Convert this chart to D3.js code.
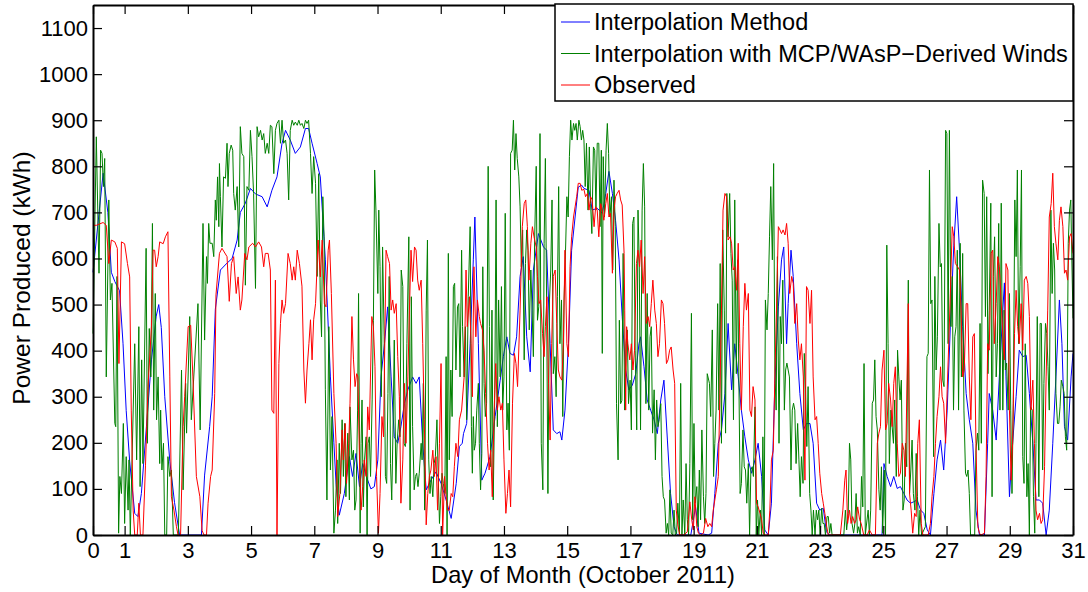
<!DOCTYPE html>
<html>
<head>
<meta charset="utf-8">
<script src="https://cdn.jsdelivr.net/npm/d3@7"></script>
<style>
  body { margin: 0; background: #fff; }
  svg text { font-family: "Liberation Sans", Arial, Helvetica, sans-serif; fill: #000; }
</style>
</head>
<body>
<div id="my_dataviz"></div>
<script>
// hourly power as [day, kWh] pairs
const seriesNames = ["Interpolation Method", "Interpolation with MCP/WAsP\u2212Derived Winds", "Observed"];
const seriesColors = ["#0000ff", "#008000", "#ff0000"];
const xTicks = [0, 1, 3, 5, 7, 9, 11, 13, 15, 17, 19, 21, 23, 25, 27, 29, 31];
const yTicks = [0, 100, 200, 300, 400, 500, 600, 700, 800, 900, 1000, 1100];

const interpMethod = [[0,570],[0.32,785],[0.47,700],[0.58,570],[0.69,550],[0.84,530],[0.95,415],[1.05,270],[1.16,160],[1.32,47],[1.42,40],[1.53,90],[1.69,235],[1.85,380],[2.0,475],[2.08,500],[2.16,450],[2.27,300],[2.43,160],[2.58,70],[2.74,0],[3.43,0],[3.53,130],[3.69,235],[3.77,300],[3.87,490],[4.03,575],[4.24,590],[4.4,600],[4.56,640],[4.66,700],[4.82,720],[4.98,752],[5.14,740],[5.35,734],[5.51,712],[5.66,748],[5.82,777],[5.98,850],[6.09,878],[6.24,857],[6.4,828],[6.56,842],[6.72,882],[6.82,882],[6.93,850],[7.09,806],[7.19,777],[7.35,597],[7.51,343],[7.62,200],[7.69,110],[7.79,43],[7.95,90],[8.11,170],[8.21,127],[8.32,177],[8.43,105],[8.53,155],[8.69,119],[8.79,100],[8.9,105],[9.01,163],[9.11,343],[9.22,415],[9.32,495],[9.43,343],[9.53,213],[9.64,199],[9.74,235],[9.85,285],[9.96,315],[10.11,343],[10.22,329],[10.32,343],[10.43,199],[10.54,98],[10.69,119],[10.85,137],[11.01,112],[11.17,76],[11.33,36],[11.49,112],[11.59,192],[11.68,199],[11.72,220],[11.82,242],[11.93,415],[12.03,597],[12.08,690],[12.19,415],[12.3,119],[12.4,134],[12.56,170],[12.72,257],[12.88,336],[12.98,387],[13.09,430],[13.19,394],[13.3,390],[13.4,430],[13.51,561],[13.61,604],[13.72,430],[13.83,354],[13.93,575],[14.09,654],[14.25,625],[14.35,618],[14.46,415],[14.56,228],[14.67,220],[14.77,224],[14.83,206],[14.93,271],[15.04,415],[15.14,618],[15.25,690],[15.35,755],[15.46,759],[15.53,752],[15.69,748],[15.79,705],[15.95,709],[16.11,698],[16.22,741],[16.32,789],[16.43,741],[16.53,683],[16.64,597],[16.74,474],[16.85,358],[16.95,315],[17.06,325],[17.17,350],[17.27,415],[17.32,430],[17.43,365],[17.53,293],[17.64,271],[17.75,250],[17.85,220],[17.96,293],[18.06,336],[18.17,206],[18.27,90],[18.38,18],[18.48,0],[18.91,0],[19.06,61],[19.17,4],[19.46,0],[19.57,4],[19.67,90],[19.78,199],[19.88,228],[19.99,307],[20.09,459],[20.2,315],[20.3,415],[20.41,343],[20.51,271],[20.62,213],[20.73,163],[20.83,134],[20.94,163],[21.04,199],[21.15,127],[21.25,11],[21.36,0],[21.46,69],[21.57,329],[21.68,495],[21.78,597],[21.85,625],[21.94,415],[21.99,502],[22.08,618],[22.15,561],[22.26,415],[22.36,307],[22.47,228],[22.57,242],[22.68,242],[22.78,199],[22.89,69],[22.99,54],[23.1,58],[23.2,7],[23.3,0],[24.96,0],[25.02,155],[25.12,127],[25.23,105],[25.33,127],[25.44,101],[25.54,105],[25.65,90],[25.75,76],[25.86,69],[25.96,72],[26.07,76],[26.18,54],[26.28,47],[26.39,11],[26.49,0],[26.6,90],[26.7,163],[26.81,206],[26.91,141],[27.02,271],[27.12,452],[27.23,629],[27.32,734],[27.41,618],[27.51,452],[27.62,307],[27.72,250],[27.83,199],[27.93,54],[28.04,0],[28.2,0],[28.3,199],[28.35,307],[28.46,271],[28.57,206],[28.67,343],[28.78,488],[28.83,547],[28.88,343],[28.99,83],[29.09,199],[29.2,300],[29.3,401],[29.41,387],[29.52,390],[29.62,307],[29.73,199],[29.83,76],[29.94,76],[30.04,69],[30.15,0],[30.25,54],[30.36,199],[30.46,343],[30.57,510],[30.65,415],[30.73,235],[30.83,206],[30.94,343],[31,394]];

const interpMcp = [[0,437],[0.105,864],[0.19,568],[0.24,835],[0.285,828],[0.33,756],[0.37,817],[0.42,343],[0.5,727],[0.55,510],[0.6,546],[0.69,242],[0.72,235],[0.76,561],[0.81,4],[0.85,127],[0.9,90],[0.96,242],[1.0,25],[1.05,170],[1.11,54],[1.14,163],[1.18,0],[1.32,415],[1.38,163],[1.45,452],[1.49,105],[1.54,380],[1.58,155],[1.68,622],[1.72,199],[1.78,448],[1.83,343],[1.88,676],[1.92,271],[1.97,524],[2.01,250],[2.06,343],[2.11,155],[2.14,271],[2.18,141],[2.23,199],[2.27,0],[2.33,0],[2.37,170],[2.43,127],[2.48,141],[2.54,0],[2.7,0],[2.8,358],[2.85,98],[2.93,329],[2.96,221],[3.06,474],[3.11,250],[3.32,502],[3.39,228],[3.48,676],[3.53,423],[3.59,604],[3.62,546],[3.66,676],[3.7,633],[3.77,633],[3.82,604],[3.87,727],[3.9,683],[3.94,777],[3.98,669],[4.0,806],[4.03,734],[4.08,625],[4.13,777],[4.19,774],[4.24,850],[4.27,756],[4.31,828],[4.37,846],[4.42,835],[4.45,741],[4.5,705],[4.56,756],[4.61,625],[4.66,886],[4.71,828],[4.77,821],[4.82,542],[4.87,756],[4.93,748],[4.98,878],[5.03,821],[5.08,741],[5.14,535],[5.19,886],[5.24,864],[5.3,878],[5.35,857],[5.4,871],[5.45,828],[5.51,850],[5.56,828],[5.61,889],[5.66,886],[5.72,784],[5.77,878],[5.82,893],[5.88,900],[5.93,850],[5.98,900],[6.03,850],[6.09,857],[6.14,828],[6.19,727],[6.24,878],[6.3,900],[6.35,889],[6.4,896],[6.46,889],[6.51,900],[6.56,889],[6.61,893],[6.67,882],[6.72,900],[6.77,893],[6.82,900],[6.88,828],[6.93,741],[6.98,821],[7.04,763],[7.09,561],[7.14,784],[7.19,510],[7.23,430],[7.27,734],[7.31,647],[7.35,315],[7.4,76],[7.46,452],[7.51,141],[7.56,257],[7.62,4],[7.67,54],[7.72,163],[7.74,25],[7.79,199],[7.83,90],[7.88,250],[7.92,127],[7.96,242],[8.0,83],[8.06,221],[8.11,76],[8.13,278],[8.19,163],[8.24,184],[8.28,54],[8.32,76],[8.37,271],[8.4,524],[8.45,4],[8.48,199],[8.51,293],[8.55,61],[8.59,163],[8.64,213],[8.67,0],[8.7,199],[8.74,213],[8.78,127],[8.83,293],[8.87,466],[8.91,792],[8.95,705],[9.01,524],[9.04,705],[9.08,582],[9.12,300],[9.16,625],[9.21,430],[9.25,127],[9.29,112],[9.33,307],[9.37,561],[9.41,155],[9.45,76],[9.49,228],[9.53,423],[9.58,112],[9.62,199],[9.67,250],[9.71,213],[9.75,575],[9.8,539],[9.84,199],[9.88,192],[9.93,415],[9.99,647],[10.03,54],[10.07,517],[10.11,235],[10.16,98],[10.2,127],[10.24,134],[10.28,105],[10.32,134],[10.38,199],[10.41,163],[10.45,329],[10.49,54],[10.54,488],[10.58,640],[10.62,163],[10.66,90],[10.7,127],[10.75,83],[10.79,155],[10.83,170],[10.88,250],[10.92,127],[10.96,25],[11.0,83],[11.04,134],[11.08,112],[11.13,90],[11.17,387],[11.2,0],[11.24,611],[11.27,163],[11.32,358],[11.36,257],[11.4,539],[11.44,546],[11.48,358],[11.53,495],[11.57,502],[11.61,343],[11.66,618],[11.69,452],[11.74,343],[11.78,452],[11.82,250],[11.87,517],[11.93,669],[11.97,235],[12.0,134],[12.03,257],[12.06,184],[12.1,199],[12.14,271],[12.19,329],[12.22,199],[12.26,98],[12.3,177],[12.33,582],[12.37,329],[12.41,257],[12.45,286],[12.5,800],[12.54,452],[12.58,148],[12.62,488],[12.66,76],[12.71,315],[12.75,727],[12.79,235],[12.83,510],[12.88,343],[12.92,539],[12.96,271],[13.0,343],[13.04,698],[13.09,228],[13.13,286],[13.17,184],[13.21,828],[13.26,835],[13.3,900],[13.34,792],[13.38,871],[13.42,817],[13.47,777],[13.51,712],[13.55,582],[13.59,662],[13.64,380],[13.68,589],[13.72,662],[13.76,618],[13.8,445],[13.85,575],[13.89,488],[13.93,387],[13.97,640],[14.02,800],[14.06,466],[14.1,495],[14.14,871],[14.18,199],[14.23,98],[14.27,633],[14.31,817],[14.35,495],[14.39,90],[14.44,510],[14.48,575],[14.52,727],[14.56,350],[14.61,387],[14.65,300],[14.69,517],[14.73,756],[14.77,415],[14.82,510],[14.86,257],[14.9,510],[14.94,597],[14.99,734],[15.03,690],[15.07,821],[15.11,900],[15.15,857],[15.2,893],[15.24,878],[15.28,893],[15.32,857],[15.37,900],[15.41,886],[15.45,857],[15.49,878],[15.53,857],[15.57,756],[15.61,850],[15.66,705],[15.7,842],[15.74,719],[15.78,654],[15.83,842],[15.87,835],[15.91,705],[15.95,850],[16.0,850],[16.04,669],[16.08,835],[16.11,394],[16.14,821],[16.18,690],[16.23,835],[16.27,893],[16.31,828],[16.35,690],[16.4,734],[16.44,575],[16.48,770],[16.52,669],[16.56,285],[16.61,163],[16.65,466],[16.69,285],[16.73,292],[16.77,611],[16.82,271],[16.86,415],[16.9,445],[16.94,285],[16.99,336],[17.03,228],[17.07,676],[17.11,690],[17.15,401],[17.2,228],[17.24,705],[17.28,589],[17.32,228],[17.37,705],[17.41,806],[17.45,712],[17.49,285],[17.53,524],[17.58,271],[17.62,430],[17.66,452],[17.7,221],[17.75,315],[17.79,163],[17.83,293],[17.87,235],[17.91,250],[17.96,285],[18.0,127],[18.04,83],[18.08,76],[18.13,4],[18.17,25],[18.21,0],[18.25,98],[18.29,4],[18.34,0],[18.38,54],[18.42,0],[18.46,4],[18.5,69],[18.55,0],[18.59,329],[18.63,0],[18.67,76],[18.72,0],[18.76,155],[18.8,33],[18.84,0],[18.88,155],[18.93,481],[18.97,33],[19.01,242],[19.05,69],[19.1,105],[19.14,18],[19.18,141],[19.22,33],[19.26,228],[19.31,83],[19.35,25],[19.39,90],[19.43,350],[19.5,329],[19.54,257],[19.59,445],[19.63,127],[19.67,199],[19.71,271],[19.76,502],[19.8,271],[19.84,589],[19.88,199],[19.92,662],[19.97,488],[20.01,221],[20.05,741],[20.09,647],[20.14,741],[20.18,611],[20.22,553],[20.26,250],[20.3,727],[20.35,350],[20.39,597],[20.43,343],[20.47,90],[20.51,112],[20.56,228],[20.6,148],[20.64,141],[20.68,69],[20.73,155],[20.77,0],[20.81,141],[20.85,148],[20.89,127],[20.94,278],[20.98,0],[21.02,76],[21.06,0],[21.11,54],[21.15,0],[21.19,213],[21.23,0],[21.27,510],[21.32,445],[21.36,524],[21.4,647],[21.44,756],[21.49,597],[21.53,806],[21.57,358],[21.61,271],[21.65,604],[21.7,199],[21.74,474],[21.78,415],[21.82,553],[21.87,271],[21.91,358],[21.95,373],[21.99,358],[22.03,343],[22.08,141],[22.12,271],[22.16,286],[22.2,271],[22.24,155],[22.29,242],[22.33,163],[22.37,83],[22.41,170],[22.46,112],[22.5,394],[22.54,315],[22.58,192],[22.62,322],[22.67,90],[22.71,54],[22.75,0],[22.79,54],[22.84,0],[22.88,54],[22.92,33],[22.96,54],[23.0,0],[23.05,58],[23.09,25],[23.13,25],[23.17,0],[23.22,40],[23.26,40],[23.3,4],[23.34,25],[23.38,0],[23.75,0],[23.8,54],[23.84,11],[23.89,47],[23.93,199],[23.97,163],[24.01,25],[24.06,4],[24.1,25],[24.14,90],[24.18,4],[24.22,18],[24.27,0],[24.31,127],[24.35,61],[24.39,372],[24.43,0],[24.52,54],[24.56,0],[24.6,54],[24.65,286],[24.69,293],[24.73,380],[24.77,257],[24.81,228],[24.86,98],[24.9,54],[24.94,148],[24.98,4],[25.03,141],[25.07,0],[25.11,629],[25.15,415],[25.19,155],[25.24,271],[25.28,235],[25.32,199],[25.36,293],[25.41,127],[25.45,401],[25.49,343],[25.53,293],[25.57,336],[25.62,54],[25.66,76],[25.7,199],[25.74,148],[25.79,553],[25.83,90],[25.87,141],[25.91,206],[25.95,90],[26.0,54],[26.04,177],[26.08,83],[26.12,0],[26.16,54],[26.21,0],[26.33,18],[26.38,387],[26.42,394],[26.46,792],[26.5,502],[26.54,510],[26.59,170],[26.63,561],[26.67,358],[26.71,430],[26.76,676],[26.8,582],[26.84,589],[26.88,336],[26.92,322],[26.97,878],[27.01,871],[27.05,415],[27.09,878],[27.14,452],[27.18,561],[27.22,271],[27.26,430],[27.3,452],[27.34,618],[27.38,271],[27.43,633],[27.47,343],[27.51,611],[27.55,271],[27.6,134],[27.64,127],[27.68,141],[27.72,90],[27.76,0],[27.89,0],[27.93,184],[27.98,221],[28.02,184],[28.06,459],[28.1,199],[28.14,770],[28.19,741],[28.23,474],[28.27,734],[28.31,350],[28.35,488],[28.4,720],[28.44,83],[28.48,561],[28.52,647],[28.57,343],[28.61,415],[28.65,676],[28.69,271],[28.73,720],[28.78,271],[28.82,488],[28.86,358],[28.9,373],[28.95,271],[28.99,524],[29.03,271],[29.07,90],[29.11,286],[29.16,727],[29.2,604],[29.24,792],[29.28,415],[29.33,582],[29.37,792],[29.41,170],[29.45,112],[29.49,415],[29.54,83],[29.58,155],[29.62,0],[29.66,278],[29.71,271],[29.75,83],[29.79,4],[29.83,199],[29.87,474],[29.92,83],[29.96,459],[30.0,459],[30.04,141],[30.08,329],[30.13,459],[30.17,437],[30.21,365],[30.25,271],[30.3,705],[30.34,524],[30.38,633],[30.42,575],[30.46,307],[30.51,242],[30.55,242],[30.59,278],[30.63,336],[30.68,322],[30.72,307],[30.76,213],[30.8,184],[30.85,633],[30.89,705],[30.93,727],[30.97,575],[31,470]];

const observed = [[0,672],[0.11,672],[0.21,675],[0.32,678],[0.42,672],[0.5,589],[0.58,640],[0.69,636],[0.77,622],[0.82,372],[0.9,636],[1.0,632],[1.09,589],[1.16,560],[1.21,271],[1.27,54],[1.32,0],[1.4,0],[1.45,69],[1.5,0],[1.58,0],[1.66,150],[1.74,322],[1.85,452],[1.9,618],[1.95,618],[2.0,582],[2.06,604],[2.11,636],[2.22,632],[2.29,647],[2.37,658],[2.43,343],[2.48,83],[2.56,54],[2.64,18],[2.69,0],[2.77,0],[2.85,235],[2.9,300],[3.01,452],[3.09,455],[3.16,343],[3.27,127],[3.38,83],[3.45,10],[3.51,0],[3.59,0],[3.64,69],[3.72,127],[3.77,141],[3.85,307],[3.89,521],[4.0,611],[4.08,622],[4.24,604],[4.31,507],[4.38,589],[4.45,604],[4.53,524],[4.59,560],[4.66,488],[4.71,510],[4.8,611],[4.87,597],[4.93,625],[5.05,633],[5.14,625],[5.24,636],[5.33,625],[5.4,582],[5.45,611],[5.54,611],[5.61,575],[5.66,271],[5.72,264],[5.77,553],[5.82,0],[5.88,372],[5.93,459],[5.98,510],[6.03,481],[6.09,502],[6.17,611],[6.24,589],[6.3,553],[6.35,582],[6.4,553],[6.46,618],[6.53,589],[6.61,540],[6.67,358],[6.72,286],[6.77,358],[6.83,415],[6.88,467],[6.93,380],[6.98,467],[7.04,502],[7.12,640],[7.19,560],[7.25,640],[7.32,502],[7.37,495],[7.44,618],[7.48,640],[7.54,524],[7.62,307],[7.69,199],[7.74,40],[7.81,90],[7.88,228],[7.92,163],[7.98,242],[8.02,112],[8.09,199],[8.13,286],[8.19,474],[8.24,380],[8.29,322],[8.34,350],[8.38,343],[8.43,163],[8.48,54],[8.53,105],[8.58,163],[8.64,127],[8.69,278],[8.74,228],[8.82,474],[8.87,452],[8.92,365],[8.97,127],[9.03,4],[9.08,90],[9.14,257],[9.19,213],[9.27,618],[9.32,604],[9.38,589],[9.43,488],[9.48,510],[9.53,481],[9.59,502],[9.64,387],[9.69,300],[9.74,69],[9.8,163],[9.85,329],[9.9,199],[9.96,343],[10.01,488],[10.06,618],[10.11,550],[10.17,625],[10.22,618],[10.27,553],[10.32,531],[10.38,553],[10.43,415],[10.48,250],[10.54,22],[10.59,90],[10.64,127],[10.69,141],[10.75,184],[10.8,127],[10.85,170],[10.9,54],[10.96,199],[11.01,372],[11.06,0],[11.12,127],[11.17,83],[11.22,54],[11.27,54],[11.33,90],[11.38,83],[11.43,148],[11.48,199],[11.54,170],[11.59,250],[11.66,271],[11.74,343],[11.8,575],[11.84,452],[11.91,517],[11.96,415],[12.0,300],[12.05,582],[12.11,430],[12.16,510],[12.22,474],[12.26,459],[12.32,445],[12.37,401],[12.42,307],[12.48,199],[12.53,141],[12.58,184],[12.63,83],[12.69,271],[12.74,372],[12.79,271],[12.84,300],[12.9,271],[12.95,286],[13.0,163],[13.06,47],[13.11,90],[13.16,141],[13.21,61],[13.27,286],[13.33,394],[13.38,372],[13.43,322],[13.51,488],[13.58,669],[13.64,719],[13.69,727],[13.74,669],[13.79,553],[13.85,633],[13.9,669],[13.95,647],[14.02,625],[14.06,561],[14.11,502],[14.16,510],[14.22,437],[14.27,387],[14.31,452],[14.36,517],[14.41,329],[14.46,206],[14.51,415],[14.56,561],[14.62,575],[14.67,459],[14.72,358],[14.77,343],[14.83,336],[14.88,415],[14.93,618],[14.99,415],[15.04,387],[15.09,582],[15.14,647],[15.2,690],[15.25,712],[15.3,734],[15.35,763],[15.41,763],[15.46,748],[15.53,750],[15.58,734],[15.64,741],[15.69,705],[15.74,734],[15.79,727],[15.85,669],[15.9,712],[15.95,705],[16.0,647],[16.06,719],[16.11,705],[16.16,683],[16.22,719],[16.27,741],[16.32,690],[16.37,698],[16.43,568],[16.48,705],[16.53,734],[16.58,741],[16.64,748],[16.69,727],[16.74,716],[16.8,611],[16.82,488],[16.85,271],[16.88,452],[16.92,415],[16.98,380],[17.03,415],[17.08,358],[17.13,401],[17.19,589],[17.24,618],[17.29,582],[17.34,640],[17.4,524],[17.45,604],[17.5,459],[17.56,474],[17.61,452],[17.66,502],[17.71,553],[17.77,488],[17.82,459],[17.87,387],[17.92,415],[17.98,510],[18.03,502],[18.08,459],[18.14,372],[18.19,380],[18.24,401],[18.29,408],[18.35,358],[18.4,329],[18.45,54],[18.5,22],[18.56,0],[18.69,0],[18.8,7],[18.88,72],[18.94,33],[18.99,11],[19.04,83],[19.1,18],[19.15,4],[19.22,0],[19.31,4],[19.38,36],[19.45,18],[19.51,25],[19.57,18],[19.62,54],[19.67,76],[19.72,98],[19.78,127],[19.83,307],[19.88,488],[19.93,705],[19.99,741],[20.04,734],[20.09,640],[20.15,647],[20.2,633],[20.25,575],[20.3,582],[20.36,531],[20.41,633],[20.46,415],[20.51,271],[20.57,452],[20.62,546],[20.67,488],[20.73,524],[20.78,271],[20.83,257],[20.88,322],[20.94,293],[20.99,69],[21.04,61],[21.1,47],[21.15,33],[21.2,4],[21.25,0],[21.36,0],[21.41,54],[21.46,163],[21.52,184],[21.57,343],[21.62,488],[21.68,669],[21.73,662],[21.78,654],[21.83,662],[21.89,651],[21.94,676],[21.99,633],[22.04,524],[22.1,561],[22.15,546],[22.2,459],[22.26,502],[22.31,423],[22.36,380],[22.41,415],[22.47,343],[22.52,119],[22.57,539],[22.62,531],[22.68,459],[22.73,531],[22.78,343],[22.84,250],[22.89,257],[22.94,199],[22.99,134],[23.05,90],[23.1,69],[23.15,47],[23.21,18],[23.26,0],[23.64,0],[23.72,54],[23.78,119],[23.82,141],[23.87,25],[23.93,54],[23.98,25],[24.03,40],[24.09,25],[24.14,33],[24.19,61],[24.25,33],[24.3,25],[24.38,0],[24.49,0],[24.56,11],[24.65,0],[24.75,0],[24.81,199],[24.86,221],[24.91,235],[24.96,358],[25.02,401],[25.07,228],[25.12,242],[25.17,329],[25.23,293],[25.28,235],[25.33,329],[25.38,365],[25.44,199],[25.49,127],[25.54,134],[25.6,199],[25.65,184],[25.7,127],[25.79,502],[25.83,90],[25.88,54],[25.93,4],[25.99,47],[26.04,40],[26.09,199],[26.14,250],[26.2,25],[26.25,0],[26.42,0],[26.49,25],[26.54,83],[26.6,127],[26.65,199],[26.7,257],[26.76,300],[26.81,365],[26.86,300],[26.91,286],[26.97,199],[27.02,315],[27.07,415],[27.12,524],[27.18,669],[27.23,647],[27.28,589],[27.35,582],[27.41,575],[27.46,488],[27.51,343],[27.56,358],[27.62,502],[27.67,502],[27.72,343],[27.77,250],[27.83,430],[27.88,437],[27.93,199],[27.99,18],[28.04,4],[28.09,0],[28.2,4],[28.25,127],[28.3,415],[28.35,401],[28.41,611],[28.46,618],[28.51,415],[28.57,502],[28.62,604],[28.67,582],[28.72,517],[28.78,430],[28.83,380],[28.88,589],[28.94,575],[28.99,271],[29.04,119],[29.09,199],[29.15,437],[29.2,531],[29.25,452],[29.3,415],[29.36,502],[29.41,401],[29.46,553],[29.52,561],[29.57,546],[29.62,474],[29.67,271],[29.73,336],[29.78,199],[29.83,54],[29.88,33],[29.94,47],[29.99,25],[30.04,33],[30.1,148],[30.15,343],[30.2,488],[30.25,690],[30.31,719],[30.36,785],[30.41,669],[30.46,633],[30.52,597],[30.57,683],[30.62,712],[30.68,669],[30.73,568],[30.78,575],[30.83,553],[30.89,647],[30.94,654],[31,611]];

// set the dimensions and margins of the graph
const margin = {top: 5, right: 15, bottom: 57, left: 93},
    width = 1088 - margin.left - margin.right,
    height = 592 - margin.top - margin.bottom;

const svg = d3.select("#my_dataviz")
  .append("svg")
    .attr("width", 1088)
    .attr("height", 592)
  .append("g")
    .attr("transform", `translate(${margin.left}, ${margin.top})`);

const x = d3.scaleLinear().domain([0, 31]).range([0, width]);
const y = d3.scaleLinear().domain([0, 1150]).range([height, 0]);

// data lines, drawn in legend order so red ends on top
const line = d3.line().x(d => x(d[0])).y(d => y(d[1]));
[interpMethod, interpMcp, observed].forEach((s, i) => {
  svg.append("path")
    .datum(s)
    .attr("fill", "none")
    .attr("stroke", seriesColors[i])
    .attr("stroke-width", 1)
    .attr("d", line);
});

// axes with inward ticks on all four sides (matlab box)
const tickLen = 9;
const styleAxis = g => {
  g.selectAll(".domain").attr("stroke", "#000").attr("stroke-width", 2);
  g.selectAll(".tick line").attr("stroke", "#000").attr("stroke-width", 1.2);
  g.selectAll("text").attr("font-size", 22).attr("fill", "#000");
};

svg.append("g")
  .attr("transform", `translate(0, ${height})`)
  .call(d3.axisBottom(x).tickValues(xTicks).tickSizeInner(-tickLen).tickSizeOuter(0).tickPadding(7).tickFormat(d3.format("d")))
  .call(styleAxis)
  .attr("font-family", null);

svg.append("g")
  .call(d3.axisLeft(y).tickValues(yTicks).tickSizeInner(-tickLen).tickSizeOuter(0).tickPadding(5).tickFormat(d3.format("d")))
  .call(styleAxis)
  .attr("font-family", null);

svg.append("g")
  .call(d3.axisTop(x).tickValues(xTicks).tickSizeInner(-tickLen).tickSizeOuter(0).tickFormat(""))
  .call(styleAxis);

svg.append("g")
  .attr("transform", `translate(${width}, 0)`)
  .call(d3.axisRight(y).tickValues(yTicks).tickSizeInner(-tickLen).tickSizeOuter(0).tickFormat(""))
  .call(styleAxis);

// axis labels
svg.append("text")
  .attr("x", width / 2)
  .attr("y", height + 48)
  .attr("text-anchor", "middle")
  .attr("font-size", 23.6)
  .text("Day of Month (October 2011)");

svg.append("text")
  .attr("transform", `translate(${-63}, ${height / 2 + 8}) rotate(-90)`)
  .attr("text-anchor", "middle")
  .attr("font-size", 24.5)
  .text("Power Produced (kWh)");

// legend box in the top right corner
const legend = svg.append("g").attr("transform", `translate(${width - 518}, -1)`);
legend.append("rect")
  .attr("width", 518)
  .attr("height", 97)
  .attr("fill", "#fff")
  .attr("stroke", "#000")
  .attr("stroke-width", 1.5);

seriesNames.forEach((name, i) => {
  const row = legend.append("g").attr("transform", `translate(0, ${18 + i * 31.5})`);
  row.append("line")
    .attr("x1", 6).attr("x2", 35)
    .attr("stroke", seriesColors[i])
    .attr("stroke-width", 1);
  row.append("text")
    .attr("x", 39)
    .attr("dy", "0.35em")
    .attr("font-size", 23.5)
    .text(name);
});
</script>
</body>
</html>
